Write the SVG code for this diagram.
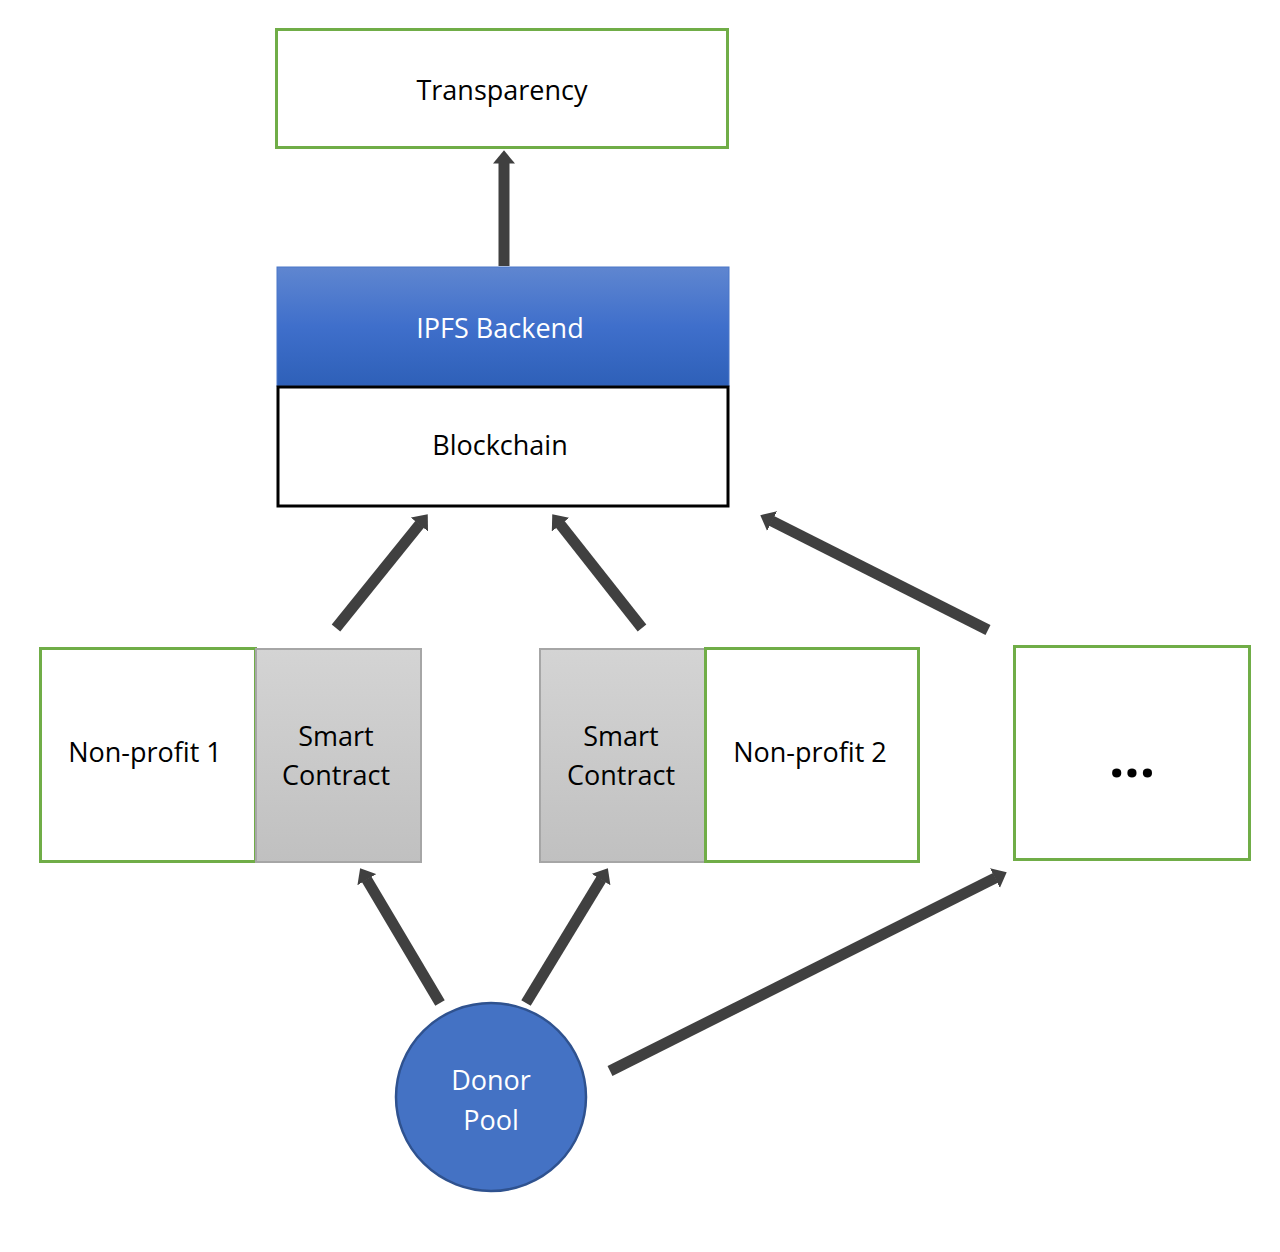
<svg xmlns="http://www.w3.org/2000/svg" width="1280" height="1252" viewBox="0 0 1280 1252">
<style>
.box{fill:#fff;stroke:#70AD47;stroke-width:3}
.sc{fill:url(#gray);stroke:#A6A6A6;stroke-width:2}
.t{font-family:"Open Sans","Liberation Sans",sans-serif;font-size:27px;fill:#000;text-anchor:middle;dominant-baseline:central}
.w{fill:#fff}
.conn{stroke:#404040;stroke-width:11;fill:none;marker-end:url(#ah)}
</style>
<defs>
<linearGradient id="blue" x1="0" y1="0" x2="0" y2="1">
<stop offset="0" stop-color="#5F86D0"/>
<stop offset="0.5" stop-color="#3F6FCB"/>
<stop offset="1" stop-color="#2E60B8"/>
</linearGradient>
<linearGradient id="gray" x1="0" y1="0" x2="0" y2="1">
<stop offset="0" stop-color="#D4D4D4"/>
<stop offset="1" stop-color="#C0C0C0"/>
</linearGradient>
<marker id="ah" viewBox="0 0 1.2 2" refX="0.05" refY="1" markerWidth="1.2" markerHeight="2" orient="auto" markerUnits="strokeWidth">
<path d="M0,0 L1.2,1 L0,2 z" fill="#404040"/>
</marker>
</defs>
<rect width="1280" height="1252" fill="#fff"/>
<g id="connectors">
<line class="conn" x1="504" y1="266" x2="504" y2="163"/>
<line class="conn" x1="336" y1="628" x2="419.8" y2="524.1"/>
<line class="conn" x1="642" y1="628" x2="560.1" y2="524.2"/>
<line class="conn" x1="988" y1="630" x2="771.6" y2="520.9"/>
<line class="conn" x1="440" y1="1003" x2="366.6" y2="879.2"/>
<line class="conn" x1="526" y1="1003" x2="601.3" y2="879.1"/>
<line class="conn" x1="610" y1="1071" x2="995.4" y2="877.8"/>
</g>
<g id="transparency">
<rect class="box" x="276.5" y="29.5" width="451" height="118"/>
<text class="t" x="502" y="89">Transparency</text>
</g>
<g id="ipfs">
<rect x="277" y="267" width="452" height="119" fill="url(#blue)" stroke="#4A76C8" stroke-width="1"/>
<text class="t w" x="500" y="327">IPFS Backend</text>
</g>
<g id="blockchain">
<rect x="278" y="387" width="450" height="119" fill="#fff" stroke="#000" stroke-width="3"/>
<text class="t" x="500" y="444">Blockchain</text>
</g>
<g id="nonprofit1">
<rect class="box" x="40.5" y="648.5" width="215" height="213"/>
<text class="t" x="145" y="751">Non-profit 1</text>
</g>
<g id="smartcontract1">
<rect class="sc" x="256" y="649" width="165" height="213"/>
<text class="t" x="336" y="735">Smart</text>
<text class="t" x="336" y="774">Contract</text>
</g>
<g id="smartcontract2">
<rect class="sc" x="540" y="649" width="165" height="213"/>
<text class="t" x="621" y="735">Smart</text>
<text class="t" x="621" y="774">Contract</text>
</g>
<g id="nonprofit2">
<rect class="box" x="705.5" y="648.5" width="213" height="213"/>
<text class="t" x="810" y="751">Non-profit 2</text>
</g>
<g id="more">
<rect class="box" x="1014.5" y="646.5" width="235" height="213"/>
<text class="t" x="1132" y="756" style="font-weight:bold;font-size:54px">...</text>
</g>
<g id="donorpool">
<ellipse cx="491" cy="1097" rx="95" ry="94" fill="#4472C4" stroke="#2F528F" stroke-width="2.5"/>
<text class="t w" x="491" y="1079">Donor</text>
<text class="t w" x="491" y="1119">Pool</text>
</g>
</svg>
